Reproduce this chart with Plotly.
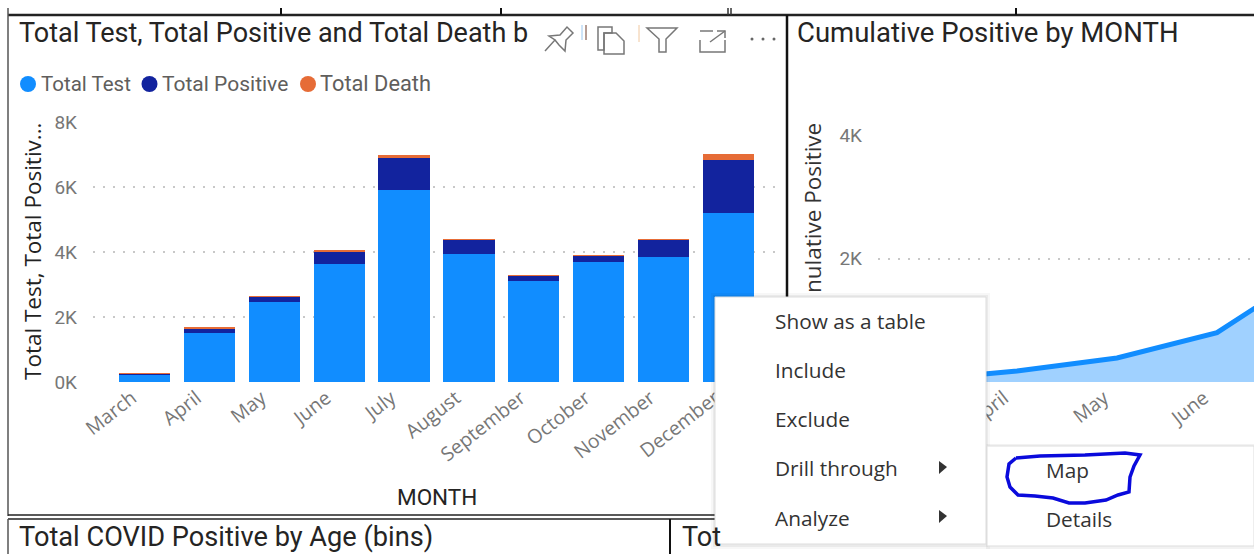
import plotly.graph_objects as go

W, H = 1254, 554
months = ["March", "April", "May", "June", "July", "August", "September", "October", "November", "December"]
total_test = [240, 1510, 2460, 3630, 5910, 3940, 3110, 3690, 3850, 5200]
total_positive = [15, 150, 180, 400, 1010, 450, 170, 210, 540, 1630]
total_death = [1, 2, 3, 30, 60, 5, 5, 3, 5, 185]
cum_months = ["March", "April", "May", "June", "July"]
cum_positive = [30, 180, 390, 800, 1850]
y_ticks_left = [0, 2000, 4000, 6000, 8000]
y_labels_left = ["0K", "2K", "4K", "6K", "8K"]
y_ticks_right = [2000, 4000]
y_labels_right = ["2K", "4K"]

BODY = "Roboto"
MENU = "Open Sans"
DARK = "#252423"
GREY = "#605E5C"


def px(x):
    return x / W


def py(y):
    return 1 - y / H


def rect(x0, y0, x1, y1, fill="rgba(0,0,0,0)", line=None, width=0, opacity=1):
    return dict(type="rect", xref="paper", yref="paper", x0=px(x0), x1=px(x1), y0=py(y0), y1=py(y1),
                fillcolor=fill, line=dict(color=line or "rgba(0,0,0,0)", width=width), opacity=opacity, layer="above")


def seg(x0, y0, x1, y1, color="#111111", width=2):
    return dict(type="line", xref="paper", yref="paper", x0=px(x0), x1=px(x1), y0=py(y0), y1=py(y1),
                line=dict(color=color, width=width), layer="above")


def path(points, color=GREY, width=1.5, fill="rgba(0,0,0,0)", close=False):
    d = "M " + " L ".join(f"{px(x):.5f},{py(y):.5f}" for x, y in points)
    if close:
        d += " Z"
    return dict(type="path", xref="paper", yref="paper", path=d, fillcolor=fill,
                line=dict(color=color, width=width), layer="above")


def circle(cx, cy, r, color):
    return dict(type="circle", xref="paper", yref="paper", x0=px(cx - r), x1=px(cx + r), y0=py(cy + r), y1=py(cy - r),
                fillcolor=color, line=dict(width=0), layer="above")


def text(s, x, y, size, color=DARK, family=BODY, xanchor="left", yanchor="middle", angle=0):
    return dict(text=s, x=px(x), y=py(y), xref="paper", yref="paper", showarrow=False, xanchor=xanchor,
                yanchor=yanchor, textangle=angle, borderpad=0, font=dict(family=family, size=size, color=color))


fig = go.Figure()
fig.add_bar(x=months, y=total_test, name="Total Test", marker=dict(color="#118DFF", line=dict(width=0)), xaxis="x", yaxis="y")
fig.add_bar(x=months, y=total_positive, name="Total Positive", marker=dict(color="#12239E", line=dict(width=0)), xaxis="x", yaxis="y")
fig.add_bar(x=months, y=total_death, name="Total Death", marker=dict(color="#E66C37", line=dict(width=0)), xaxis="x", yaxis="y")
fig.add_scatter(x=cum_months, y=cum_positive, mode="lines", name="Cumulative Positive", fill="tozeroy",
                fillcolor="#A0D1FF", line=dict(color="#118DFF", width=5), xaxis="x2", yaxis="y2")

shapes = [
    # panel frame
    seg(8, 15, 1254, 15, "#222222", 2.5),
    seg(8, 8, 8, 516, "#555555", 1.5),
    seg(8, 515, 716, 515, "#222222", 1.5),
    seg(8, 519, 716, 519, "#222222", 1.5),
    seg(8, 519, 8, 554, "#555555", 1.5),
    seg(787, 15, 787, 297, "#111111", 2.5),
    seg(670, 519, 670, 554, "#111111", 2),
    seg(281, 8, 281, 15),
    seg(501, 8, 501, 15),
    seg(728, 8, 728, 15, "#333333", 1.5),
    seg(731, 8, 731, 15, "#333333", 1.5),
    seg(1016, 8, 1016, 15),
    # legend markers
    circle(28, 84, 8, "#118DFF"),
    circle(149.5, 84, 8, "#12239E"),
    circle(308, 84, 8, "#E66C37"),
    # header icons
    path([(545, 51), (555, 40), (549, 36), (560, 35), (567, 27), (573, 33), (566, 40), (565, 51), (559, 45), (555, 40)], "#777777", 1.5),
    path([(598, 27), (612, 27), (612, 33), (604, 33), (604, 50), (598, 50)], "#777777", 1.5, close=True),
    path([(604, 33), (616, 33), (624, 41), (624, 54), (604, 54)], "#777777", 1.5, close=True),
    path([(647, 28), (677, 28), (666, 39), (666, 52), (659, 52), (659, 39)], "#777777", 1.5, close=True),
    path([(700, 40), (700, 52), (725, 52), (725, 40)], "#777777", 1.5),
    path([(700, 31), (713, 31)], "#777777", 1.5),
    path([(710, 42), (725, 31)], "#777777", 1.5),
    path([(717, 31), (725, 31), (725, 38)], "#777777", 1.5),
    circle(752, 39, 1.5, "#666666"),
    circle(763, 39, 1.5, "#666666"),
    circle(774, 39, 1.5, "#666666"),
    seg(582, 25, 582, 40, "#9CC8F0", 1),
    seg(586, 25, 586, 40, "#6B3A2A", 1),
    seg(639, 25, 639, 42, "#F0C8A0", 1),
    # context menus
    rect(711, 293, 990, 549, "#000000", opacity=0.03),
    rect(713, 295, 988, 547, "#000000", opacity=0.05),
    rect(986, 444, 1254, 549, "#000000", opacity=0.05),
    rect(987, 446, 1254, 546, "#FFFFFF", "#DDDDDD", 1),
    rect(715, 297, 986, 544, "#FFFFFF", "#DDDDDD", 1),
    path([(939, 461), (947, 467), (939, 474)], "#333333", 0, "#333333", True),
    path([(939, 510), (947, 516), (939, 523)], "#333333", 0, "#333333", True),
    # hand-drawn highlight
    path([(1016, 458), (1040, 456), (1085, 455), (1125, 453), (1140, 455), (1134, 466), (1130, 477), (1129, 492),
          (1118, 495), (1106, 500), (1085, 503), (1069, 503), (1053, 498), (1035, 496), (1018, 495), (1010, 487),
          (1007, 477), (1009, 464), (1016, 458)], "#0A0ADC", 3.5),
]

annotations = [
    text("Total Test, Total Positive and Total Death b", 18, 33, 27),
    text("Cumulative Positive by MONTH", 796, 33, 27.5),
    text("Total COVID Positive by Age (bins)", 18, 537, 27.2),
    text("Tot", 681, 537, 27),
    text("Total Test", 40, 84, 20.5, GREY),
    text("Total Positive", 161, 84, 21, GREY),
    text("Total Death", 319, 84, 21.8, GREY),
    text("MONTH", 437, 497, 22.5, DARK, xanchor="center"),
    text("Total Test, Total Positiv...", 32, 251, 22.5, "#222222", MENU, xanchor="center", angle=-90),
    text("nulative Positive", 812, 122, 22.5, "#333333", MENU, xanchor="center", yanchor="top", angle=-90),
    text("Show as a table", 774, 321, 20.8, "#333333", MENU),
    text("Include", 774, 370, 20.8, "#333333", MENU),
    text("Exclude", 774, 419, 20.8, "#333333", MENU),
    text("Drill through", 774, 468, 20.8, "#333333", MENU),
    text("Analyze", 774, 518, 20.8, "#333333", MENU),
    text("Map", 1045, 470, 20.8, "#333333", MENU),
    text("Details", 1045, 519, 20.8, "#333333", MENU),
]

grid = dict(showgrid=True, gridcolor="#C8C8C8", griddash="2px,8px", gridwidth=1.5, zeroline=False, showline=False, ticks="")
tick_font = dict(family=BODY, size=19, color="#777777")
x_font = dict(family=MENU, size=19.5, color="#777777")

fig.update_layout(
    width=W, height=H, margin=dict(l=0, r=0, t=0, b=0, pad=0, autoexpand=False),
    paper_bgcolor="#FFFFFF", plot_bgcolor="#FFFFFF", showlegend=False,
    barmode="stack", bargap=0.21,
    xaxis=dict(domain=[px(93), px(780)], range=[-0.8, 9.8], anchor="y", type="category", showgrid=False, zeroline=False,
               tickangle=-38, tickfont=x_font, ticks="", showline=False, ticklabelshift=-13),
    yaxis=dict(domain=[py(382), py(122)], range=[0, 8000], anchor="x", tickvals=y_ticks_left, ticktext=y_labels_left,
               tickfont=tick_font, ticklabelstandoff=15, **grid),
    xaxis2=dict(domain=[px(878), 1], range=[-0.39, 3.37], anchor="y2", type="category", showgrid=False, zeroline=False,
                tickangle=-38, tickfont=x_font, ticks="", showline=False, ticklabelshift=-13),
    yaxis2=dict(domain=[py(382), py(135)], range=[0, 4000], anchor="x2", tickvals=[0] + y_ticks_right,
                ticktext=[""] + y_labels_right, tickfont=tick_font, ticklabelstandoff=15, **grid),
    shapes=shapes, annotations=annotations,
)

fig.write_html("out.html", config=dict(displayModeBar=False),
               post_script="document.body.style.margin='0';document.body.style.overflow='hidden';")
